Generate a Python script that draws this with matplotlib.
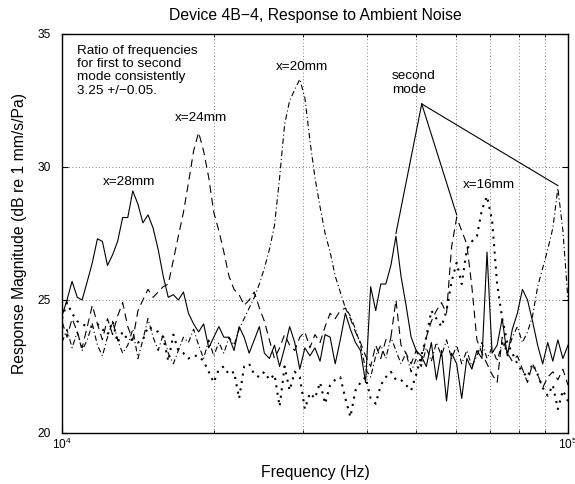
import numpy as np
import matplotlib
matplotlib.use("Agg")
import matplotlib.pyplot as plt
from matplotlib.ticker import FixedLocator, NullFormatter, LogFormatterSciNotation

plt.rcParams['font.family'] = ['Liberation Sans', 'DejaVu Sans']

# frequency samples (kHz), shared by all four traces
freq_khz = [10.00, 10.23, 10.47, 10.72, 10.96, 11.22, 11.48, 11.75, 12.02, 12.30,
            12.59, 12.88, 13.18, 13.49, 13.80, 14.13, 14.45, 14.79, 15.14, 15.49,
            15.85, 16.22, 16.60, 16.98, 17.38, 17.78, 18.20, 18.62, 19.05, 19.50,
            19.95, 20.42, 20.89, 21.38, 21.88, 22.39, 22.91, 23.44, 23.99, 24.55,
            25.12, 25.70, 26.30, 26.92, 27.54, 28.18, 28.84, 29.51, 30.20, 30.90,
            31.62, 32.36, 33.11, 33.88, 34.67, 35.48, 36.31, 37.15, 38.02, 38.90,
            39.81, 40.74, 41.69, 42.66, 43.65, 44.67, 45.71, 46.77, 47.86, 48.98,
            50.12, 51.29, 52.48, 53.70, 54.95, 56.23, 57.54, 58.88, 60.26, 61.66,
            63.10, 64.57, 66.07, 67.61, 69.18, 70.79, 72.44, 74.13, 75.86, 77.62,
            79.43, 81.28, 83.18, 85.11, 87.10, 89.13, 91.20, 93.33, 95.50, 97.72,
            100.0]

# response magnitude, dB re 1 mm/s/Pa
resp_28mm = [24.4, 25.0, 25.7, 25.1, 25.0, 25.7, 26.4, 27.3, 27.2, 26.3,
             26.7, 27.2, 28.1, 28.1, 29.1, 28.6, 27.9, 28.2, 27.7, 26.9,
             25.9, 25.1, 25.2, 25.0, 25.3, 24.5, 24.1, 23.8, 24.1, 23.2,
             23.6, 24.0, 23.6, 23.6, 23.1, 24.0, 23.6, 23.0, 23.5, 24.0,
             23.0, 22.8, 23.3, 22.5, 23.2, 24.0, 23.4, 22.4, 23.2, 22.9,
             23.2, 22.7, 23.7, 23.6, 22.6, 23.5, 24.5, 23.9, 23.4, 23.1,
             21.9, 25.5, 24.6, 25.6, 25.6, 26.3, 27.4, 25.9, 24.8, 23.6,
             23.1, 22.9, 22.5, 23.4, 22.0, 23.1, 21.2, 23.0, 22.6, 21.3,
             22.8, 22.4, 23.1, 22.8, 26.8, 23.0, 23.3, 24.3, 22.9, 23.9,
             24.5, 25.4, 25.0, 24.2, 23.3, 22.6, 23.4, 22.7, 23.5, 22.8,
             23.3]

resp_24mm = [24.2, 23.6, 24.3, 23.8, 23.2, 24.0, 24.8, 24.1, 23.5, 24.3,
             23.7, 24.4, 24.9, 24.0, 23.5, 24.6, 25.0, 25.4, 25.1, 25.3,
             25.5, 25.6, 26.5, 27.4, 28.3, 29.4, 30.6, 31.3, 30.6, 29.6,
             28.3, 27.6, 26.8, 25.9, 25.4, 25.2, 24.8, 25.0, 25.3, 24.7,
             24.2, 23.5, 22.8, 23.2, 23.7, 23.3, 23.1, 23.6, 23.8, 23.2,
             23.7, 23.4, 24.0, 24.5, 24.3, 24.6, 24.7, 24.3, 23.8, 23.4,
             22.9, 22.5, 23.3, 22.8, 23.5, 23.6, 25.0, 23.3, 23.0, 22.6,
             23.1, 22.7, 23.6, 24.2, 24.6, 24.9, 24.5, 27.0, 28.1, 27.6,
             27.1, 25.5, 23.5, 23.0, 22.6, 22.2, 21.9, 23.6, 23.0, 22.7,
             22.9, 22.4, 21.9, 22.6, 22.2, 21.7, 22.1, 22.3, 22.0, 22.4,
             21.8]

resp_20mm = [23.4, 23.9, 23.2, 23.8, 23.1, 23.5, 24.1, 23.3, 22.9, 23.6,
             24.2, 23.5, 23.0, 23.3, 23.9, 22.8, 23.5, 24.3, 23.6, 23.1,
             23.7, 23.0, 22.6, 23.1, 23.6, 23.4, 23.9, 23.3, 22.8, 23.5,
             22.9, 23.4, 23.0, 23.6, 23.3, 23.9, 24.3, 24.7, 25.1, 25.6,
             26.2, 26.9, 27.8, 29.6, 31.6, 32.5, 32.9, 33.3, 32.6, 31.0,
             29.6, 28.5, 27.5, 26.8, 25.9, 25.3, 24.7, 24.4, 23.9, 23.3,
             22.4, 22.1, 22.9, 23.3, 22.8, 23.6, 23.1, 22.6, 23.0, 22.3,
             22.8, 22.5, 23.2, 22.7, 23.4, 22.9, 23.5, 22.8, 23.3, 22.6,
             23.1, 22.5, 22.9, 23.4, 22.8, 23.2, 22.7, 23.4, 23.0, 23.6,
             24.0, 23.4, 23.8, 24.4, 25.5, 26.2, 26.9, 27.7, 29.2, 27.6,
             25.0]

resp_16mm = [24.3, 24.9, 24.5, 24.2, 24.1, 24.0, 24.0, 24.1, 23.9, 23.7,
             24.2, 23.4, 23.8, 23.5, 23.5, 23.4, 23.5, 24.0, 23.9, 23.8,
             23.6, 22.7, 23.7, 23.1, 23.0, 22.8, 22.9, 22.9, 22.7, 22.3,
             21.9, 22.4, 22.5, 22.2, 22.3, 21.3, 22.5, 22.6, 22.2, 22.1,
             22.3, 22.0, 22.2, 21.0, 22.5, 21.6, 22.3, 22.1, 20.9, 21.5,
             21.3, 21.9, 21.1, 21.8, 22.0, 22.1, 21.3, 20.6, 21.6, 21.9,
             22.1, 21.3, 21.1, 21.8, 22.1, 22.3, 22.0, 22.0, 21.8, 21.6,
             22.2, 22.9, 23.6, 24.6, 24.3, 24.0, 24.6, 25.7, 26.4, 25.6,
             26.9, 27.2, 27.4, 28.4, 28.9, 28.0, 25.6, 24.3, 23.4, 23.0,
             22.6, 22.3, 22.1, 22.6, 22.2, 21.7, 21.4, 21.8, 20.9, 21.6,
             21.2]

freq = np.array(freq_khz) * 1000.0

fig = plt.figure(figsize=(5.75, 4.84), dpi=100)
ax = fig.add_axes([0.1078, 0.1054, 0.8800, 0.8244])

ax.plot(freq, resp_28mm, color='k', lw=0.8, linestyle='-')
ax.plot(freq, resp_24mm, color='k', lw=0.8, linestyle=(0, (7, 4.5)))
ax.plot(freq, resp_20mm, color='k', lw=0.8, linestyle=(0, (5, 2.5, 1, 2.5)))
ax.plot(freq, resp_16mm, color='k', lw=1.5, linestyle=(0, (1, 2.6)))

ax.set_xscale('log')
ax.set_xlim(1e4, 1e5)
ax.set_ylim(20, 35)
ax.set_yticks([20, 25, 30, 35])
ax.xaxis.set_major_locator(FixedLocator([1e4, 1e5]))
ax.xaxis.set_major_formatter(LogFormatterSciNotation())
ax.xaxis.set_minor_locator(FixedLocator([k * 1e4 for k in range(2, 10)]))
ax.xaxis.set_minor_formatter(NullFormatter())

ax.tick_params(which='both', direction='in', top=True, right=True, labelsize=8.6)
ax.tick_params(which='major', length=4, width=0.8)
ax.tick_params(which='minor', length=2.5, width=0.6)
ax.tick_params(axis='y', pad=8)
ax.tick_params(axis='x', pad=3)
for sp in ax.spines.values():
    sp.set_linewidth(1.0)

ax.grid(True, which='both', axis='x', color='0.35', linestyle=(0, (1, 3)), lw=0.6)
ax.grid(True, which='major', axis='y', color='0.35', linestyle=(0, (1, 3)), lw=0.6)

ax.set_title('Device 4B\u22124, Response to Ambient Noise', fontsize=11.3, pad=10)
ax.set_xlabel('Frequency (Hz)', fontsize=11.3, labelpad=9)
ax.set_ylabel('Response Magnitude (dB re 1 mm/s/Pa)', fontsize=11.3, labelpad=8)

ax.text(10710, 34.6, 'Ratio of frequencies\nfor first to second\nmode consistently\n3.25 +/\u22120.05.',
        fontsize=9.7, va='top', ha='left', linespacing=1.15)
ax.text(12050, 29.44, 'x=28mm', fontsize=9.7, va='center', ha='left')
ax.text(16720, 31.84, 'x=24mm', fontsize=9.7, va='center', ha='left')
ax.text(26480, 33.76, 'x=20mm', fontsize=9.7, va='center', ha='left')
ax.text(62000, 29.32, 'x=16mm', fontsize=9.7, va='center', ha='left')
ax.text(44900, 33.16, 'second\nmode', fontsize=9.7, va='center', ha='left', linespacing=1.15)

# pointer lines from the label to the second-mode peaks
apex = (51400, 32.37)
for series, start in [(resp_28mm, 60), (resp_24mm, 70), (resp_20mm, 90)]:
    k = start + int(np.argmax(series[start:]))
    ax.plot([apex[0], freq[k]], [apex[1], series[k] + 0.1], color='k', lw=0.8)

fig.savefig('out.png', dpi=100)
